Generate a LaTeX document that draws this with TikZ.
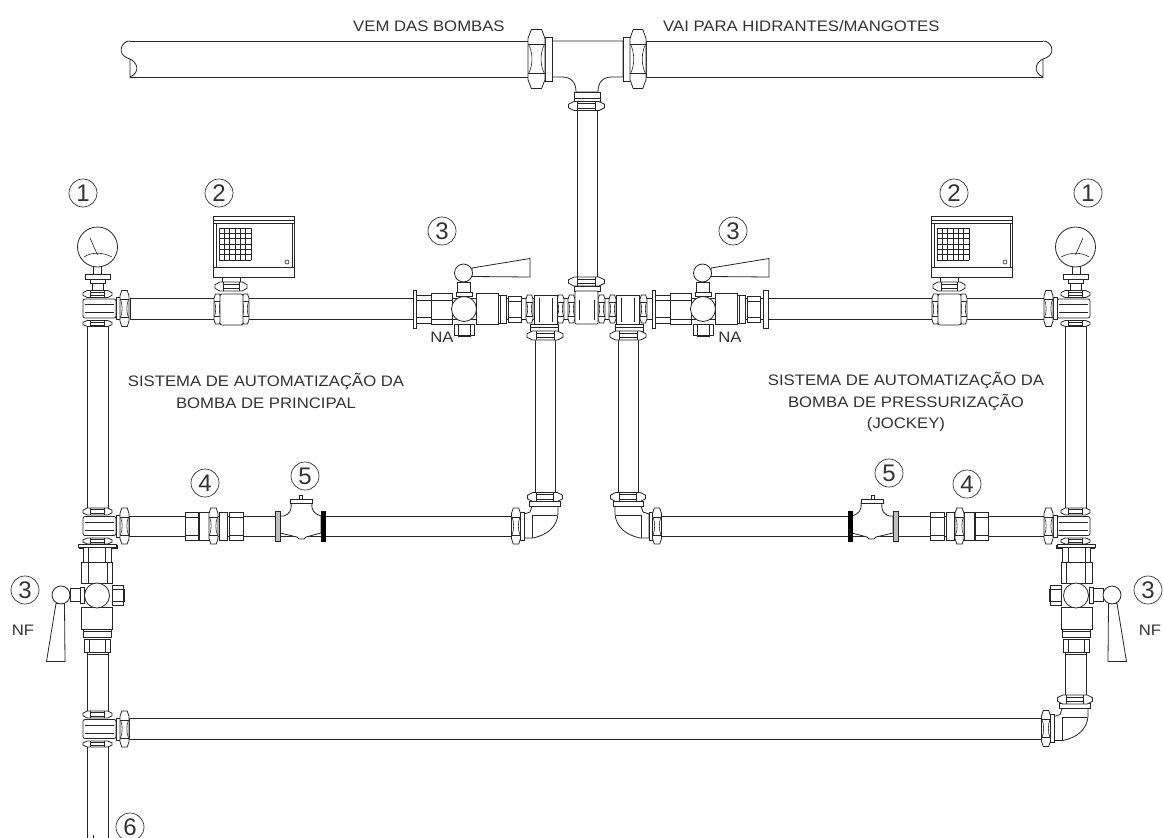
\documentclass[tikz,border=0pt]{standalone}
\usepackage{fontspec}
\setmainfont{Liberation Sans}
\newfontfamily\lblfont[FakeStretch=1.1]{Liberation Sans}
\definecolor{inkgray}{HTML}{333333}

% hexagon nuts, tall and flat (centre x, centre y, width, height)
\newcommand{\nutv}[4]{%
  \begin{scope}[shift={(#1,#2)}]
    \pgfmathsetmacro{\nuta}{#3/2}\pgfmathsetmacro{\nutb}{#4/2}
    \draw[block] ({-\nuta+.2*#3},-\nutb) -- ({\nuta-.2*#3},-\nutb) -- (\nuta,{-.7*\nutb}) -- (\nuta,{.7*\nutb}) -- ({\nuta-.2*#3},\nutb) -- ({-\nuta+.2*#3},\nutb) -- (-\nuta,{.7*\nutb}) -- (-\nuta,{-.7*\nutb}) -- cycle;
    \draw[line] (-\nuta,{-.5*\nutb}) -- (\nuta,{-.5*\nutb}) (-\nuta,{.5*\nutb}) -- (\nuta,{.5*\nutb});
    \draw[line] ({-\nuta+.5},{-.5*\nutb}) .. controls ({-\nuta+.3*#3},{-.2*\nutb}) and ({-\nuta+.3*#3},{.2*\nutb}) .. ({-\nuta+.5},{.5*\nutb});
    \draw[line] ({\nuta-.5},{-.5*\nutb}) .. controls ({\nuta-.3*#3},{-.2*\nutb}) and ({\nuta-.3*#3},{.2*\nutb}) .. ({\nuta-.5},{.5*\nutb});
  \end{scope}}
\newcommand{\nuth}[4]{%
  \begin{scope}[shift={(#1,#2)}]
    \pgfmathsetmacro{\nuta}{#3/2}\pgfmathsetmacro{\nutb}{#4/2}
    \draw[block] (-\nuta,{-.2*#4}) -- ({-.7*\nuta},-\nutb) -- ({.7*\nuta},-\nutb) -- (\nuta,{-.2*#4}) -- (\nuta,{.2*#4}) -- ({.7*\nuta},\nutb) -- ({-.7*\nuta},\nutb) -- (-\nuta,{.2*#4}) -- cycle;
    \draw[line] ({-.5*\nuta},-\nutb) -- ({-.5*\nuta},\nutb) ({.5*\nuta},-\nutb) -- ({.5*\nuta},\nutb);
    \draw[line] ({-.5*\nuta},{-.5*\nutb}) -- ({.5*\nuta},{-.5*\nutb}) ({-.5*\nuta},{.5*\nutb}) -- ({.5*\nuta},{.5*\nutb});
  \end{scope}}

% tee on the column: nuts above and below, flange and nut to the right
\newcommand{\teejoint}[1]{%
  \begin{scope}[shift={(0,#1)}]
    \nuth{97.5}{-14.5}{29}{7}
    \nuth{97.5}{15}{29}{6}
    \draw[block,rounded corners=2pt] (83,-9.5) rectangle (116,9.5);
    \draw[line] (85,-4) -- (114,-4) (85,4) -- (114,4);
    \draw[block] (116,-11) rectangle (120,11);
    \nutv{124.5}{0}{9}{36}
  \end{scope}}

% ball valve, drawn lying down with the handle up
\newcommand{\ballvalve}{%
  \draw[block] (413,290) rectangle (416,328);
  \draw[block] (416,295) rectangle (431,323);
  \draw[line] (416,300) -- (431,300) (416,317) -- (431,317);
  \draw[block] (431,293) rectangle (452,324);
  \draw[line] (431,300) -- (452,300) (431,319) -- (452,319);
  \draw[block] (476,293) rectangle (498,324);
  \draw[block] (498,295) rectangle (506,323);
  \draw[line] (500,295) -- (500,323);
  \draw[block] (508,296) rectangle (521,322);
  \draw[line] (508,301) -- (521,301) (508,317) -- (521,317);
  \draw[block] (454,324) rectangle (474,335);
  \draw[line] (458,324) -- (458,336) -- (470,336) -- (470,324);
  \draw[block] (457,282) rectangle (470,295);
  \draw[block] (456,292) rectangle (472,296);
  \draw[block] (472,268) -- (530,258.5) -- (530,277) -- (472,276.5) -- cycle;
  \draw[block] (463.5,273) circle (9);
  \draw[block] (464,309) circle (12.5);
}

% the gauge on top of a column
\newcommand{\gaugeunit}{%
  \draw[block] (93,266) rectangle (101,275);
  \draw[block] (85,274) rectangle (110,279);
  \draw[block] (90,279) rectangle (105,283);
  \draw[block] (92,283) rectangle (103,290);
  \draw[block] (97.5,247) circle (20);
  \draw[line] (84,257) .. controls (91,252) and (103,252) .. (112,257);
  \draw[line] (97.5,255) -- (90,238);
}

% the switch box on a T, the grid on the left
\newcommand{\ctrlunit}{%
  \draw[block] (213,216) rectangle (294,277);
  \draw[line] (213,220) -- (294,220) (213,223) -- (294,223) (213,267.5) -- (294,267.5) (216,223) -- (216,267.5) (292,223) -- (292,267.5);
  \foreach \gridx in {0,...,6} {\draw[line] ({219+\gridx*5.33},228) -- ({219+\gridx*5.33},260);}
  \foreach \gridy in {0,...,6} {\draw[line] (219,{228+\gridy*5.33}) -- (251,{228+\gridy*5.33});}
  \draw[line] (287,262) circle (2);
  \draw[block] (222,277) rectangle (240,282);
  \nuth{231}{286.5}{32}{9}
  \nutv{217.5}{309}{7}{30}
  \nutv{245.5}{309}{7}{30}
  \draw[block,rounded corners=2pt] (220,294) rectangle (243,325);
}

% elbow from a pipe on the left up into a pipe above
\newcommand{\elbowjoint}{%
  \draw[block] (532,506) -- (558,506) -- (558,514) .. controls (557,527) and (547,535) .. (533,538) -- (524,538) -- (524,514) -- (530,512) -- cycle;
  \draw[line] (532,515) -- (557,515) (532,515) -- (532,538);
  \draw[block] (520,512) rectangle (524,540);
  \nutv{516}{526}{9}{36}
  \draw[block] (529.5,501) rectangle (560,506);
  \nuth{545}{497}{35}{9}
}

% what the two sides have in common, seen on the left side
\newcommand{\sidehalf}{%
  \draw[block] (87,326) rectangle (108,510);
  \draw[block] (87,640) rectangle (108,654);
  \draw[block] (129,516) rectangle (520,536);
  \draw[block] (535,335) rectangle (555,495);
  \gaugeunit
  \teejoint{308.5}
  \teejoint{526}
  \draw[block] (79,545) rectangle (117,548);
  \begin{scope}[cm={0,-1,-1,0,(-212pt,-131.5pt)}]
    \ballvalve
  \end{scope}
  % the union, item 4
  \draw[block] (185,512) rectangle (198,540);
  \draw[block] (199,512) rectangle (209,540);
  \draw[block] (219,512) rectangle (227,540);
  \draw[block] (229,512) rectangle (243,540);
  \draw[line] (185,517) -- (198,517) (185,535) -- (198,535) (229,517) -- (243,517) (229,535) -- (243,535);
  \nutv{213.5}{526}{9}{36}
  % the check valve, item 5
  \draw[block] (280,516) -- (284,516) .. controls (289,514) and (292,511) .. (291,503) -- (312,503) .. controls (311,511) and (315,514) .. (321,516) -- (321,533) -- (306,537) -- (304,539) -- (299,539) -- (297,537) -- (280,533) -- cycle;
  \draw[block] (290,499) rectangle (312,503);
  \draw[block] (299,495) rectangle (302,499);
  \draw[block,fill=gray!50] (275,511) rectangle (280,541);
  \draw[line width=.8pt,fill=black] (321,511) rectangle (325,541);
  \elbowjoint
  % the tee going down to the check valve
  \nutv{529.5}{309}{7}{28}
  \nutv{560.5}{309}{7}{28}
  \draw[block] (534,295) rectangle (557,324);
  \draw[line] (539,298) -- (539,322) (552,298) -- (552,322);
  \draw[block] (530,324) rectangle (558,331);
  \draw[line] (530,327) -- (558,327);
  \nuth{545}{335.5}{36}{9}
  \nutv{571.5}{309}{7}{28}
}

\begin{document}
\begin{tikzpicture}[
    x=1pt,y=-1pt,
    line/.style={line width=.6pt,black!85},
    block/.style={line width=.8pt,black!85,fill=white},
    balloon/.style={circle,draw=inkgray,line width=.7pt,minimum size=28pt,inner sep=0pt,text=inkgray,font=\fontsize{24}{24}\selectfont},
    note/.style={text=inkgray,inner sep=0pt,align=center,font=\lblfont\fontsize{15.2}{21.5}\selectfont}
    ]
    \useasboundingbox (0,0) rectangle (1163,838);

    % pipes of the upper line
    \draw[block] (130,41) -- (528,41) -- (528,77) -- (130,77);
    \draw[block] (1043,41) -- (646,41) -- (646,77) -- (1043,77);
    \foreach \mirx/\mirs in {0/1,1173/-1} {
      \begin{scope}[xshift=\mirx pt,xscale=\mirs]
        \draw[line width=.8pt,black!85] (130,41) .. controls (122,41) and (118,51) .. (124,56) .. controls (126,58) and (128,58) .. (130,59) .. controls (137,62) and (141,72) .. (130,77) -- (130,59);
      \end{scope}
    }
    % tee of the upper line
    \draw[block] (552,41) -- (623,41) -- (623,77) -- (612,77) .. controls (603,77) and (598,82) .. (598,92) -- (576,92) .. controls (576,82) and (571,77) .. (562,77) -- (552,77) -- cycle;
    \draw[block] (545,37) rectangle (552,81);
    \draw[block] (623,37) rectangle (630,81);
    \nutv{536.5}{59}{17}{59}
    \nutv{638}{59}{16}{59}
    \draw[block] (577,110) rectangle (597,277);
    \draw[block] (574,92) rectangle (600,102);
    \draw[line] (574,98) -- (600,98);
    \nuth{586.5}{106}{36}{9}

    % main line with its valves and boxes
    \draw[block] (130,298) rectangle (768,319);
    \draw[block] (768,298) rectangle (1044,319);
    \ctrlunit
    \begin{scope}[xshift=718pt]
      \ctrlunit
    \end{scope}
    \ballvalve
    \begin{scope}[xshift=239pt]
      \ballvalve
    \end{scope}
    \draw[block] (763,290) rectangle (768,328);

    % both sides
    \sidehalf
    \begin{scope}[xshift=1173pt,xscale=-1]
      \sidehalf
    \end{scope}

    % tee in the middle
    \nuth{586.5}{281.5}{36}{9}
    \draw[block] (574,286) rectangle (600,291);
    \draw[block,rounded corners=1pt] (575,291) rectangle (598,324);
    \draw[line] (579,300) -- (579,320) (594,300) -- (594,320);

    % bottom line
    \draw[block] (87,654) rectangle (108,712);
    \draw[block] (87,746) rectangle (108,845);
    \draw[block] (1065,654) rectangle (1086,697);
    \draw[block] (129,718) rectangle (1046,739);
    \teejoint{729}
    \begin{scope}[shift={(530,202.5)}]
      \elbowjoint
    \end{scope}
    \draw[line] (93,835) -- (93,838);

    % labels
    \node[balloon] (gaugeL) at (83,193) {1};
    \node[balloon] (boxL) at (219,193) {2};
    \node[balloon] (valveL) at (442,231) {3};
    \node[balloon] (valveR) at (733,231) {3};
    \node[balloon] (boxR) at (954,193) {2};
    \node[balloon] (gaugeR) at (1088,193) {1};
    \node[balloon] (unionL) at (205,483) {4};
    \node[balloon] (checkL) at (305,476) {5};
    \node[balloon] (checkR) at (889,473) {5};
    \node[balloon] (unionR) at (967,484) {4};
    \node[balloon] (valveLL) at (25,590) {3};
    \node[balloon] (valveRR) at (1148,590) {3};
    \node[balloon] (drain) at (130,827) {6};

    \node[note,anchor=west] (fromPumps) at (353,26) {VEM DAS BOMBAS};
    \node[note,anchor=west] (toHydrants) at (663,26) {VAI PARA HIDRANTES/MANGOTES};
    \node[note] (mainPump) at (266,391) {SISTEMA DE AUTOMATIZAÇÃO DA\\BOMBA DE PRINCIPAL};
    \node[note] (jockeyPump) at (906,402) {SISTEMA DE AUTOMATIZAÇÃO DA\\BOMBA DE PRESSURIZAÇÃO\\(JOCKEY)};
    \node[note] (naL) at (442,337) {NA};
    \node[note] (naR) at (730,337) {NA};
    \node[note] (nfL) at (23,630) {NF};
    \node[note] (nfR) at (1150,630) {NF};
\end{tikzpicture}
\end{document}
